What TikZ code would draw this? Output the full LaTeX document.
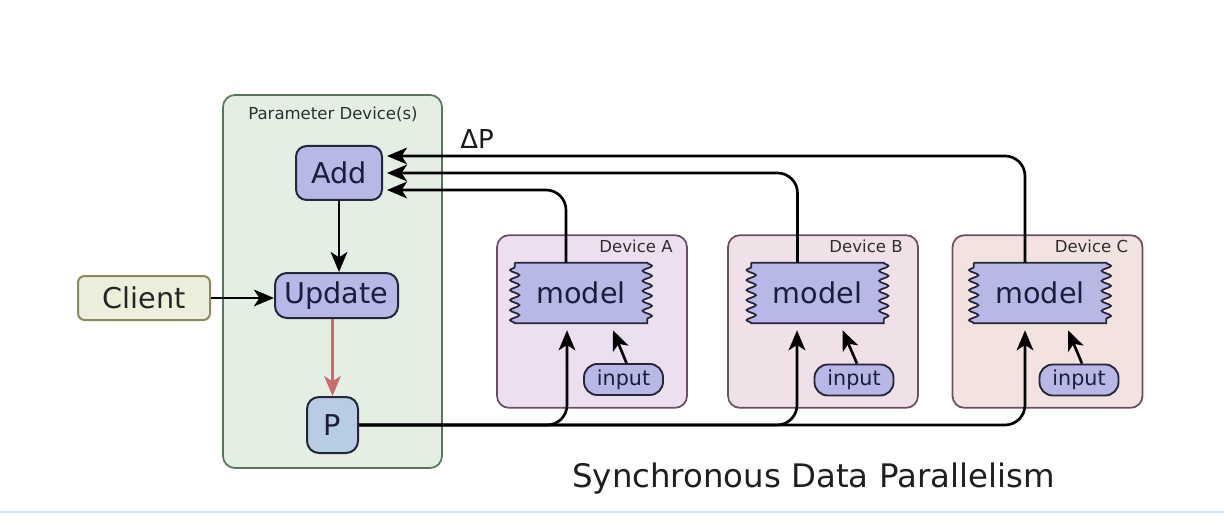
\documentclass[tikz,border=0pt]{standalone}
\usepackage{fontspec}
\setmainfont{DejaVu Sans}
\usetikzlibrary{arrows.meta,calc,decorations.pathmorphing}
\definecolor{paramfill}{HTML}{E2EFE2}
\definecolor{paramdraw}{HTML}{5A765A}
\definecolor{nodefill}{HTML}{B8B8E6}
\definecolor{nodedraw}{HTML}{26263A}
\definecolor{nodetext}{HTML}{1C1C3C}
\definecolor{clientfill}{HTML}{EEEEDC}
\definecolor{clientdraw}{HTML}{8A8A5C}
\definecolor{pfill}{HTML}{B8CCE4}
\definecolor{devAfill}{HTML}{ECDFF0}
\definecolor{devBfill}{HTML}{F0E0E8}
\definecolor{devCfill}{HTML}{F2E3E0}
\definecolor{devdraw}{HTML}{6A4E62}
\definecolor{redarrow}{HTML}{CC6A6A}
\definecolor{labeltext}{HTML}{2E2E2E}
\definecolor{bluebar}{HTML}{D3E5F7}
\pgfdeclarelayer{bg}
\pgfdeclarelayer{mid}
\pgfsetlayers{bg,mid,main}
\begin{document}
\begin{tikzpicture}[x=0.75pt,y=-0.75pt,
  bignode/.style={rectangle, draw=nodedraw, line width=1.5pt, fill=nodefill, text=nodetext,
    inner sep=0pt, font=\fontsize{21.5pt}{25pt}\selectfont},
  modelbox/.style={rectangle, inner sep=0pt, minimum width=99pt, minimum height=45pt,
    text=nodetext, font=\fontsize{21.5pt}{25pt}\selectfont},
  inputbox/.style={rectangle, rounded corners=10pt, draw=nodedraw, line width=1.4pt, fill=nodefill,
    text=nodetext, inner sep=0pt, minimum width=59.25pt, minimum height=23.25pt,
    font=\fontsize{15.5pt}{18pt}\selectfont},
  devbox/.style={rectangle, rounded corners=9pt, draw=devdraw, line width=1.3pt,
    minimum width=142.5pt, minimum height=129.5pt, inner sep=0pt},
  smalllabel/.style={inner sep=0pt, text=labeltext, font=\fontsize{12.4pt}{15pt}\selectfont},
  conn/.style={line width=2pt, draw=black, -{Stealth[length=15pt,width=12.5pt,inset=4pt]}},
  wavy/.style={draw=nodedraw, fill=nodefill, line width=1.3pt,
    decoration={snake, segment length=7.5pt, amplitude=3.5pt}}
]
\useasboundingbox (0,0) rectangle (1224,524);

% containers
\begin{pgfonlayer}{bg}
  \node[rectangle, rounded corners=9pt, draw=paramdraw, fill=paramfill, line width=1.3pt,
        minimum width=164.25pt, minimum height=279.75pt, inner sep=0pt] (param) at (332.5,281.5) {};
  \node[devbox, fill=devAfill] (devA) at (592,321.5) {};
  \node[devbox, fill=devBfill] (devB) at (823,321.5) {};
  \node[devbox, fill=devCfill] (devC) at (1047.5,321.5) {};
\end{pgfonlayer}

\node[smalllabel, anchor=base] (paramlabel) at (333,120) {Parameter Device(s)};
\node[smalllabel, anchor=base east] (labA) at ($(devA.north east)+(-15,18)$) {Device A};
\node[smalllabel, anchor=base east] (labB) at ($(devB.north east)+(-16,18)$) {Device B};
\node[smalllabel, anchor=base east] (labC) at ($(devC.north east)+(-15,18)$) {Device C};

% parameter device nodes
\node[bignode, rounded corners=8pt, minimum width=64.5pt, minimum height=40.5pt] (add) at (339,173) {Add};
\node[bignode, rounded corners=9pt, minimum width=92.25pt, minimum height=33.75pt] (update) at (336.5,295.5) {Update};
\node[bignode, rounded corners=5pt, draw=clientdraw, fill=clientfill, text=black!85,
      minimum width=99pt, minimum height=33pt] (client) at (144,298) {Client};
\node[bignode, rounded corners=9pt, fill=pfill, minimum width=38.25pt, minimum height=42pt] (p) at (332.5,425) {P};

% device nodes
\node[modelbox] (mA) at (581,293) {model};
\node[modelbox] (mB) at (817.5,293) {model};
\node[modelbox] (mC) at (1040,293) {model};
\node[inputbox] (iA) at (623.5,379.5) {input};
\node[inputbox] (iB) at (854,380) {input};
\node[inputbox] (iC) at (1079,380) {input};

\begin{pgfonlayer}{mid}
  \foreach \m in {mA,mB,mC}{
    \path[wavy] (\m.north west) -- (\m.north east)
      decorate{ -- (\m.south east)} -- (\m.south west)
      decorate{ -- (\m.north west)} -- cycle;
  }
\end{pgfonlayer}

% labels
\node[inner sep=0pt, anchor=base west, text=black!90, font=\fontsize{19.5pt}{23pt}\selectfont] (dp) at (460,149) {ΔP};
\node[inner sep=0pt, anchor=base west, text=black!88, font=\fontsize{24.3pt}{29pt}\selectfont] (title) at (572,487) {Synchronous Data Parallelism};

% connectors inside parameter device
\draw[conn] (add.south) -- (add.south |- update.north);
\draw[conn] (client.east) -- (client.east -| update.west);
\draw[conn, draw=redarrow, line width=1.6pt] (p.north |- update.south) -- (p.north);

% gradients back to Add
\draw[conn, rounded corners=15pt, shorten >=3pt] ($(mA.north)+(-15,0)$) |- ($(add.east)+(0,17)$);
\draw[conn, rounded corners=15pt, shorten >=3pt] ($(mB.north)+(-20,0)$) |- (add.east);
\draw[conn, rounded corners=15pt, shorten >=3pt] ($(mC.north)+(-15,0)$) |- ($(add.east)+(0,-17)$);

% parameters out to models
\draw[conn, rounded corners=15pt] (p.east) -| ($(mA.south)+(-14,7)$);
\draw[conn, rounded corners=15pt] (p.east) -| ($(mB.south)+(-20.5,7)$);
\draw[conn, rounded corners=15pt] (p.east) -| ($(mC.south)+(-15,7)$);

% inputs
\draw[conn] ($(iA.north)+(3,0)$) -- ($(mA.south)+(32,7)$);
\draw[conn] ($(iB.north)+(3,0)$) -- ($(mB.south)+(25,7)$);
\draw[conn] ($(iC.north)+(3,0)$) -- ($(mC.south)+(28,7)$);

% page rule
\draw[line width=2.2pt, draw=bluebar] (0,512) -- (1224,512);
\end{tikzpicture}
\end{document}
